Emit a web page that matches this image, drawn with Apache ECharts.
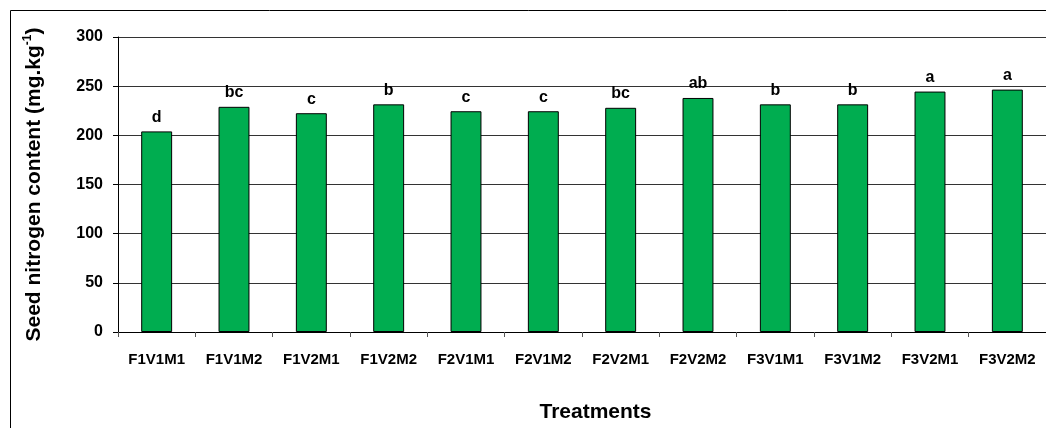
<!DOCTYPE html>
<html>
<head>
<meta charset="utf-8">
<script src="https://cdn.jsdelivr.net/npm/echarts@6/dist/echarts.min.js"></script>
<style>
  html, body { margin: 0; padding: 0; background: #fff; }
  #chart { width: 1046px; height: 428px; }
</style>
</head>
<body>
<div id="chart"></div>
<script>
// Treatment combinations (fertilizer × variety × method)
const treatments = ['F1V1M1', 'F1V1M2', 'F1V2M1', 'F1V2M2', 'F2V1M1', 'F2V1M2',
                    'F2V2M1', 'F2V2M2', 'F3V1M1', 'F3V1M2', 'F3V2M1', 'F3V2M2'];
// Seed nitrogen content, mg/kg
const nitrogen = [204, 229, 222.5, 231.5, 224.5, 224.5, 228, 238, 231.5, 231.5, 244.5, 246.5];
// Mean-separation letters
const letters = ['d', 'bc', 'c', 'b', 'c', 'c', 'bc', 'ab', 'b', 'b', 'a', 'a'];
const yTicks = [0, 50, 100, 150, 200, 250, 300];

const FONT = '"Liberation Sans", Arial, sans-serif';

const chart = echarts.init(document.getElementById('chart'), null, { renderer: 'canvas' });

chart.setOption({
  animation: false,
  backgroundColor: '#fff',
  graphic: [{
    type: 'rect',
    silent: true,
    shape: { x: 10.5, y: 10.5, width: 1100, height: 500 },
    style: { fill: 'none', stroke: '#000', lineWidth: 1 }
  }],
  grid: { left: 118, top: 37, width: 931, height: 297.5, containLabel: false },
  xAxis: {
    type: 'category',
    data: treatments,
    name: 'Treatments',
    nameLocation: 'middle',
    nameGap: 70,
    nameTextStyle: { fontFamily: FONT, fontWeight: 'bold', fontSize: 21, color: '#000', padding: [0, 0, 0, 27] },
    axisLine: { lineStyle: { color: '#000', width: 1 } },
    axisTick: { show: true, length: 5, lineStyle: { color: '#555' } },
    axisLabel: { fontFamily: FONT, fontWeight: 'bold', fontSize: 15, color: '#000', margin: 20 },
    splitLine: { show: false }
  },
  yAxis: {
    type: 'value',
    min: yTicks[0],
    max: yTicks[yTicks.length - 1],
    interval: 50,
    name: '{a|Seed nitrogen content (mg.kg}{s|-1}{a|)}',
    nameLocation: 'middle',
    nameRotate: 90,
    nameGap: 72,
    nameTextStyle: {
      rich: {
        a: { fontFamily: FONT, fontWeight: 'bold', fontSize: 21, color: '#000', lineHeight: 24 },
        s: { fontFamily: FONT, fontWeight: 'bold', fontSize: 12, color: '#000', lineHeight: 12, verticalAlign: 'top' }
      }
    },
    axisLine: { show: true, lineStyle: { color: '#000', width: 1 } },
    axisTick: { show: true, length: 5, lineStyle: { color: '#000' } },
    axisLabel: { fontFamily: FONT, fontWeight: 'bold', fontSize: 16, color: '#000', margin: 15 },
    splitLine: { show: true, lineStyle: { color: '#333', width: 1 } }
  },
  series: [{
    type: 'bar',
    data: nitrogen,
    barWidth: '40%',
    itemStyle: { color: '#00AD50', borderColor: '#000', borderWidth: 1 },
    label: {
      show: true,
      position: 'top',
      distance: 6,
      fontFamily: FONT,
      fontWeight: 'bold',
      fontSize: 16,
      color: '#000',
      formatter: p => letters[p.dataIndex]
    }
  }]
});
</script>
</body>
</html>
